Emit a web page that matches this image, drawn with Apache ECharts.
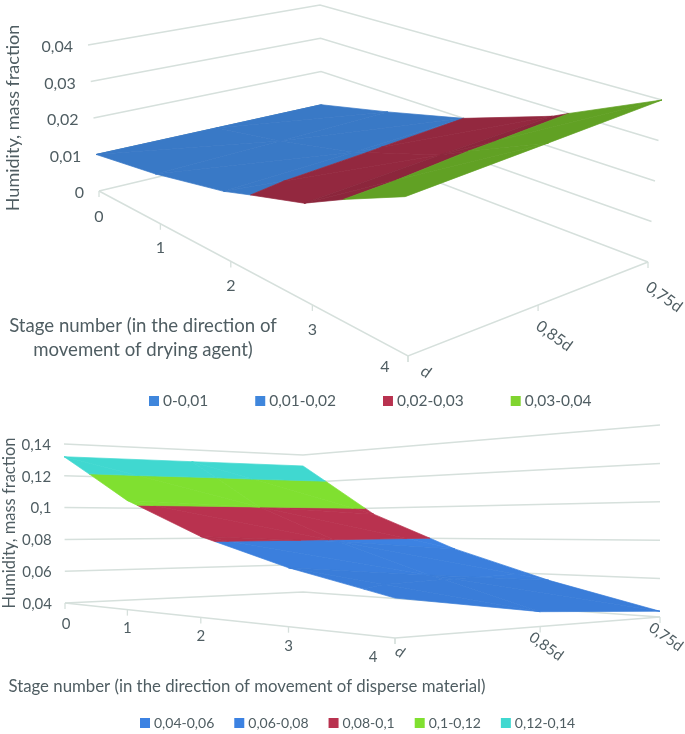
<!DOCTYPE html>
<html><head><meta charset="utf-8">
<style>html,body{margin:0;padding:0;background:#fff}#c{width:685px;height:734px}</style>
<script src="https://cdn.jsdelivr.net/npm/echarts@6/dist/echarts.min.js"></script>
</head><body><div id="c"></div>
<script>
// ---- data ----
const stageLabels = ['0','1','2','3','4'];
const widthLabels = ['d','0,85d','0,75d'];
// upper chart: drying agent humidity, rows are stage-number columns 0..4
const agentAtD    = [0.010,0.0130,0.0175,0.0245,0.0375];
const agentAt085  = [0.010,0.0138,0.0187,0.0265,0.0388];
const agentAt075  = [0.010,0.0147,0.0200,0.0280,0.0400];
const agentTicks  = [0,0.01,0.02,0.03,0.04];
const agentTickLabels = ['0','0,01','0,02','0,03','0,04'];
const agentBands  = ['0-0,01','0,01-0,02','0,02-0,03','0,03-0,04'];
// lower chart: disperse material humidity
const materialAtD   = [0.132,0.103,0.0825,0.068,0.057];
const materialAt085 = [0.132,0.100,0.079,0.062,0.047];
const materialAt075 = [0.132,0.096,0.0735,0.0565,0.043];
const materialTicks = [0.04,0.06,0.08,0.10,0.12,0.14];
const materialTickLabels = ['0,04','0,06','0,08','0,1','0,12','0,14'];
const materialBands = ['0,04-0,06','0,06-0,08','0,08-0,1','0,1-0,12','0,12-0,14'];

// ---- style / layout ----
const TXT='#4f5d62', GRID='#d6e0dc', FONT='Lato, "Open Sans", sans-serif';
const agentColors=['#3f86dc','#3f86dc','#b8324f','#80d42f'];
const materialColors=['#3c82e2','#3c82e2','#b9324f','#80e030','#40d8d0'];
function homography(p00,p10,p11,p01){
  const dx1=p10[0]-p11[0],dx2=p01[0]-p11[0],sx=p00[0]-p10[0]+p11[0]-p01[0];
  const dy1=p10[1]-p11[1],dy2=p01[1]-p11[1],sy=p00[1]-p10[1]+p11[1]-p01[1];
  const det=dx1*dy2-dx2*dy1, g=(sx*dy2-dx2*sy)/det, h=(dx1*sy-sx*dy1)/det;
  const a=p10[0]-p00[0]+g*p10[0],b=p01[0]-p00[0]+h*p01[0],c=p00[0];
  const d=p10[1]-p00[1]+g*p10[1],e=p01[1]-p00[1]+h*p01[1],f=p00[1];
  return (u,v)=>{const w=g*u+h*v+1;return [(a*u+b*v+c)/w,(d*u+e*v+f)/w];};
}
function makeBox(floor,top,zMin,zMax){
  const F=homography(...floor),T=homography(...top);
  return (s,di,z)=>{
    const a=F(s/4,di/2),b=T(s/4,di/2),t=(z-zMin)/(zMax-zMin);
    return [a[0]+(b[0]-a[0])*t,a[1]+(b[1]-a[1])*t];
  };
}
const boxA=makeBox([[99,191],[408,356],[648,262],[322,138]],[[88,45],[405,186],[662,100],[320,5]],0,0.04);
const boxB=makeBox([[65,603],[395,638],[660,617],[303,592]],[[64,444],[395,403],[660,425],[303,455]],0.04,0.14);

function clip(poly,lo,hi){
  const cut=(pts,keep,lim)=>{const out=[];
    for(let i=0;i<pts.length;i++){const p=pts[i],q=pts[(i+1)%pts.length],kp=keep(p[2]),kq=keep(q[2]);
      if(kp)out.push(p);
      if(kp!==kq){const t=(lim-p[2])/(q[2]-p[2]);out.push([p[0]+(q[0]-p[0])*t,p[1]+(q[1]-p[1])*t,lim]);}
    }return out;};
  return cut(cut(poly,z=>z>=lo,lo),z=>z<=hi,hi);
}
// one datum per surface cell: [stage, widthIndex, h00, h10, h01, h11]
function cells(rows){const out=[];
  for(let di=0;di<rows.length-1;di++)for(let s=0;s<rows[0].length-1;s++)
    out.push([s,di,rows[di][s],rows[di][s+1],rows[di+1][s],rows[di+1][s+1]]);
  return out;}
function shade(hex,k){const n=parseInt(hex.slice(1),16);
  const c=[n>>16,(n>>8)&255,n&255].map(x=>Math.round(x*k));
  return 'rgb('+c.join(',')+')';}
function bandSeries(name,color,lo,hi,rows,box,shades){
  return {type:'custom',name,coordinateSystem:'cartesian2d',animation:false,silent:true,clip:false,z:3,
    itemStyle:{color},data:cells(rows),
    renderItem(params,api){
      const s=api.value(0),di=api.value(1);
      const tris=[[[s,di,api.value(2)],[s+1,di,api.value(3)],[s+1,di+1,api.value(5)]],
                  [[s,di,api.value(2)],[s+1,di+1,api.value(5)],[s,di+1,api.value(4)]]];
      const fill=shade(color,shades[s]);
      const children=[];
      tris.forEach(t=>{const c=clip(t,lo,hi);
        if(c.length>2)children.push({type:'polygon',
          shape:{points:c.map(p=>api.coord(box(p[0],p[1],p[2])))},
          style:{fill,stroke:fill,lineWidth:0.7}});});
      return {type:'group',children};
    }};
}
function wallSeries(ticks,box){
  return {type:'custom',coordinateSystem:'cartesian2d',animation:false,silent:true,clip:false,z:1,
    data:ticks.map(v=>[v]),
    renderItem(params,api){const z=api.value(0);
      return {type:'polyline',shape:{points:[box(0,0,z),box(0,2,z),box(4,2,z)].map(p=>api.coord(p))},
        style:{fill:null,stroke:GRID,lineWidth:1.5}};}};
}
function floorSeries(box,zMin){
  const data=[];
  stageLabels.forEach((_,i)=>data.push([i,0]));
  widthLabels.forEach((_,i)=>data.push([4,i]));
  return {type:'custom',coordinateSystem:'cartesian2d',animation:false,silent:true,clip:false,z:1,
    data,
    renderItem(params,api){
      const p=api.coord(box(api.value(0),api.value(1),zMin));
      const ch=[{type:'line',shape:{x1:p[0],y1:p[1],x2:p[0],y2:p[1]+6},style:{stroke:GRID,lineWidth:1.3}}];
      if(params.dataIndex===0){
        const pts=[box(0,0,zMin),box(4,0,zMin),box(4,2,zMin)].map(q=>api.coord(q));
        ch.push({type:'polyline',shape:{points:pts},style:{fill:null,stroke:GRID,lineWidth:1.5}});
      }
      return {type:'group',children:ch};
    }};
}
function labelSeries(items,size){
  return {type:'custom',coordinateSystem:'cartesian2d',animation:false,silent:true,clip:false,z:5,
    data:items.map((it,i)=>[i]),
    renderItem(params,api){const it=items[api.value(0)],p=api.coord(it.at);
      return {type:'text',x:p[0]+it.dx,y:p[1]+it.dy,rotation:it.rot||0,
        style:{text:it.text,font:size+'px '+FONT,fill:TXT,align:it.align||'center',verticalAlign:'middle'}};}};
}
const agentRows=[agentAtD,agentAt085,agentAt075], materialRows=[materialAtD,materialAt085,materialAt075];
const stageOffA=[[0,26],[0,24],[0,24],[0,25],[-23,11]];
const stageOffB=[[1,21],[0,19],[0,19],[0,19],[-22,19]];
const widthOffA=[[18,16],[16,31],[16,35]];
const widthOffB=[[5,14],[6,20],[6,20]];
const R=-0.62;
const labelsA=agentTicks.map((z,i)=>({text:agentTickLabels[i],at:boxA(0,0,z),dx:-15,dy:2,align:'right'}))
 .concat(stageLabels.map((t,i)=>({text:t,at:boxA(i,0,0),dx:stageOffA[i][0],dy:stageOffA[i][1]})))
 .concat(widthLabels.map((t,i)=>({text:t,at:boxA(4,i,0),dx:widthOffA[i][0],dy:widthOffA[i][1],rot:R})));
const labelsB=materialTicks.map((z,i)=>({text:materialTickLabels[i],at:boxB(0,0,z),dx:-13,dy:1,align:'right'}))
 .concat(stageLabels.map((t,i)=>({text:t,at:boxB(i,0,0.04),dx:stageOffB[i][0],dy:stageOffB[i][1]})))
 .concat(widthLabels.map((t,i)=>({text:t,at:boxB(4,i,0.04),dx:widthOffB[i][0],dy:widthOffB[i][1],rot:R})));

const shadesBlue=[0.9,0.9,0.9,0.9], shadesA=[0.9,0.9,0.8,0.76], shadesB=[1,1,0.98,0.96];
const series=[wallSeries(agentTicks,boxA),floorSeries(boxA,0),wallSeries(materialTicks,boxB),floorSeries(boxB,0.04)];
agentBands.forEach((n,i)=>series.push(bandSeries(n,agentColors[i],agentTicks[i],agentTicks[i+1],agentRows,boxA,i<2?shadesBlue:shadesA)));
materialBands.forEach((n,i)=>series.push(bandSeries(n,materialColors[i],materialTicks[i],materialTicks[i+1],materialRows,boxB,shadesB)));
series.push(labelSeries(labelsA,16),labelSeries(labelsB,15));

const legendBase={icon:'rect',itemWidth:10,itemHeight:10,selectedMode:false,orient:'horizontal'};
const titleText=(text,x,y,size,rot)=>({type:'text',x,y,rotation:rot||0,silent:true,
  style:{text,font:size+'px '+FONT,fill:TXT,align:'center',verticalAlign:'middle',lineHeight:24}});
const chart=echarts.init(document.getElementById('c'),null,{renderer:'canvas'});
chart.setOption({
  animation:false,backgroundColor:'#fff',
  grid:{left:0,top:0,width:685,height:734},
  xAxis:{type:'value',min:0,max:685,show:false},
  yAxis:{type:'value',min:0,max:734,inverse:true,show:false},
  legend:[
    Object.assign({},legendBase,{data:agentBands,left:144,top:388,itemGap:47,textStyle:{fontSize:15.5,color:TXT,fontFamily:FONT,padding:[0,0,0,-1]}}),
    Object.assign({},legendBase,{data:materialBands,left:135,top:711,itemGap:20,textStyle:{fontSize:14,color:TXT,fontFamily:FONT,padding:[0,0,0,-1]}})
  ],
  series,
  graphic:[
    titleText('Humidity, mass fraction',13,118,18,Math.PI/2),
    titleText('Stage number (in the direction of\nmovement of drying agent)',143,338,18.6),
    titleText('Humidity, mass fraction',10,523,16.5,Math.PI/2),
    titleText('Stage number (in the direction of movement of disperse material)',247,687,16.8)
  ]
});
</script></body></html>
